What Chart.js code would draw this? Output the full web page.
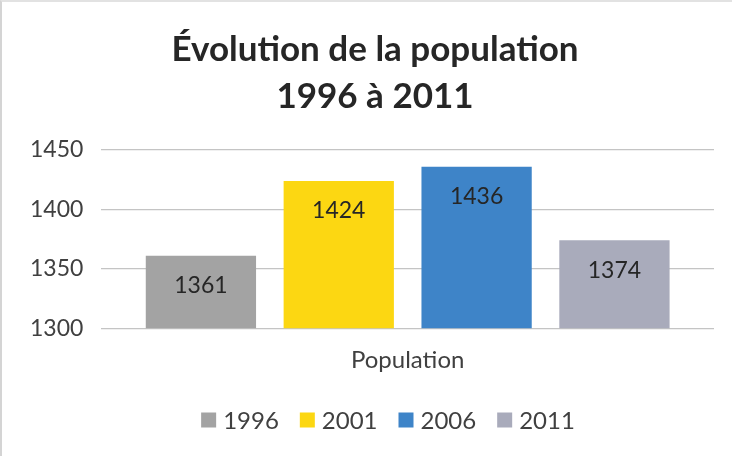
<!DOCTYPE html>
<html>
<head>
<meta charset="utf-8">
<script src="https://cdn.jsdelivr.net/npm/chart.js@4/dist/chart.umd.min.js"></script>
<style>
  html, body { margin: 0; padding: 0; background: #ffffff; }
  #wrap { position: relative; width: 732px; height: 456px; box-sizing: border-box; border-left: 2px solid #d4d4d4; border-top: 2px solid #e2e2e2; }
  canvas { display: block; }
</style>
</head>
<body>
<div id="wrap"><canvas id="c" width="730" height="454"></canvas></div>
<script>
const titleLines = ['Évolution de la population', '1996 à 2011'];
const categories = ['Population'];
const seriesNames = ['1996', '2001', '2006', '2011'];
const seriesValues = [1361, 1424, 1436, 1374];
const seriesColors = ['#a3a3a3', '#fcd712', '#3e84c8', '#a9abbb'];
const yTicks = [1300, 1350, 1400, 1450];

const FONT = 'Lato, "Open Sans", sans-serif';

const datasets = seriesNames.map((name, i) => ({
  label: name,
  data: [seriesValues[i]],
  backgroundColor: seriesColors[i],
  borderWidth: 0,
  barPercentage: 0.8,
  categoryPercentage: 0.9
}));

const valueLabels = {
  id: 'valueLabels',
  afterDatasetsDraw(chart) {
    const ctx = chart.ctx;
    ctx.save();
    ctx.font = '23px ' + FONT;
    ctx.fillStyle = '#262626';
    ctx.textAlign = 'center';
    ctx.textBaseline = 'middle';
    chart.data.datasets.forEach((ds, i) => {
      const meta = chart.getDatasetMeta(i);
      meta.data.forEach((bar, j) => {
        ctx.fillText(String(ds.data[j]), bar.x, bar.y + 30);
      });
    });
    ctx.restore();
  }
};

// Two-line title, centred like the reference
const chartTitle = {
  id: 'chartTitle',
  afterDraw(chart) {
    const ctx = chart.ctx;
    ctx.save();
    ctx.font = 'bold 35px ' + FONT;
    ctx.fillStyle = '#262626';
    ctx.textAlign = 'center';
    ctx.textBaseline = 'middle';
    titleLines.forEach((line, i) => ctx.fillText(line, 373, 48 + i * 47));
    ctx.restore();
  }
};

// Bottom legend drawn from the datasets (compact box-to-text gap as in the reference)
const bottomLegend = {
  id: 'bottomLegend',
  afterDraw(chart) {
    const ctx = chart.ctx;
    const box = 15, gap = 7, spacing = 21;
    const cy = 418, cx = 386;
    ctx.save();
    ctx.font = '24px ' + FONT;
    ctx.textBaseline = 'middle';
    ctx.textAlign = 'left';
    const items = chart.data.datasets.map(ds => ({
      text: ds.label, color: ds.backgroundColor, w: ctx.measureText(ds.label).width
    }));
    const total = items.reduce((s, it) => s + box + gap + it.w, 0) + spacing * (items.length - 1);
    let x = cx - total / 2;
    items.forEach(it => {
      ctx.fillStyle = it.color;
      ctx.fillRect(x, cy - box / 2, box, box);
      ctx.fillStyle = '#404040';
      ctx.fillText(it.text, x + box + gap, cy + 1);
      x += box + gap + it.w + spacing;
    });
    ctx.restore();
  }
};

new Chart(document.getElementById('c'), {
  type: 'bar',
  data: { labels: categories, datasets },
  plugins: [valueLabels, chartTitle, bottomLegend],
  options: {
    responsive: false,
    animation: false,
    layout: { padding: { left: 10, right: 18, top: 148, bottom: 63 } },
    plugins: {
      title: { display: false },
      legend: { display: false },
      tooltip: { enabled: false }
    },
    scales: {
      x: {
        grid: { display: false, drawTicks: false },
        border: { display: false },
        ticks: { color: '#404040', font: { family: FONT, size: 24 }, padding: 18 }
      },
      y: {
        min: 1300,
        max: 1450,
        afterBuildTicks(axis) { axis.ticks = yTicks.map(v => ({ value: v })); },
        grid: { color: '#c4c4c4', lineWidth: 1.3, drawTicks: false },
        border: { display: false },
        ticks: {
          color: '#404040',
          font: { family: FONT, size: 23 },
          padding: 18,
          callback: v => String(v)
        }
      }
    }
  }
});
</script>
</body>
</html>
